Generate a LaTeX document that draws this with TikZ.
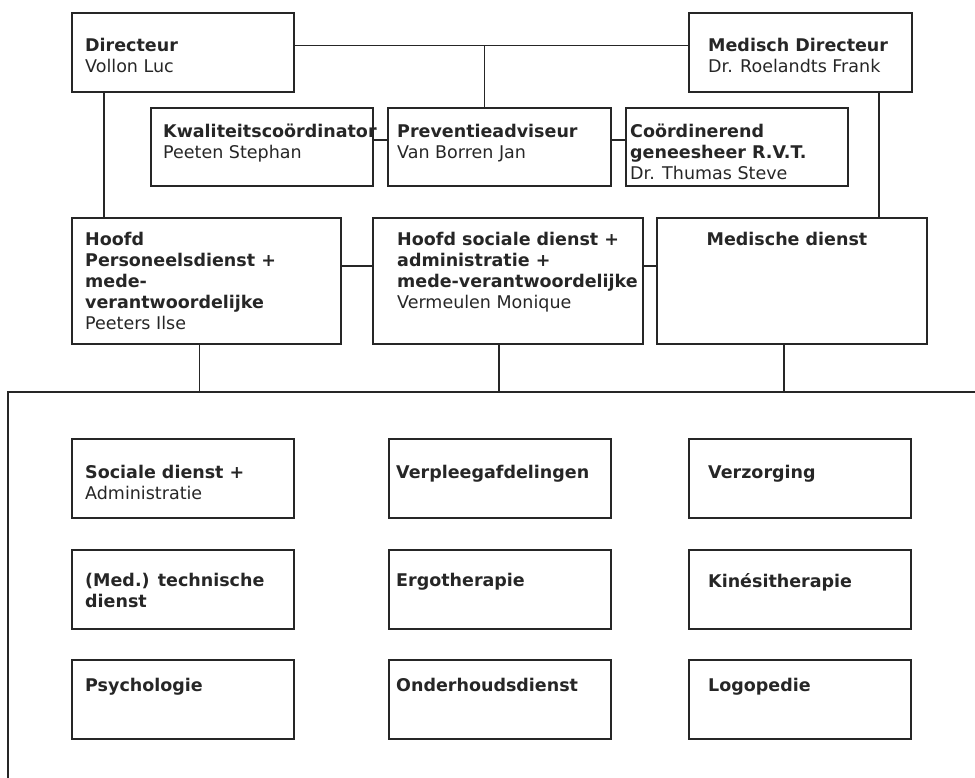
\documentclass[tikz,border=0pt]{standalone}
\usepackage{fontspec}
\setmainfont{DejaVu Sans}
\usetikzlibrary{positioning}

\begin{document}
\begin{tikzpicture}
[x=1pt, y=-1pt,
 box/.style={draw=black!85, line width=1.3pt, anchor=north west, inner sep=0pt, outer sep=0pt, minimum width=222pt, minimum height=79pt},
 txt/.style={inner sep=0pt, align=left, text=black!85, font=\fontsize{17.5}{21}\selectfont},
 edge/.style={line width=1.3pt, color=black!85}]
\useasboundingbox (0,0) rectangle (975,778);
% top: directors and staff
\node (dir) [box] at (72,13) {};
\node (med) [box, minimum width=223pt] at (689,13) {};
\node (kwal) [box, minimum height=78pt] at (151,108) {};
\node (prev) [box, minimum width=223pt, minimum height=78pt] at (388,108) {};
\node (coord) [box, minimum height=78pt] at (626,108) {};
\node (dir-t) [txt, below right=25pt and 13pt of dir.north west] {\textbf{Directeur}\\Vollon Luc};
\node (med-t) [txt, below right=25pt and 19pt of med.north west] {\textbf{Medisch Directeur}\\Dr. Roelandts Frank};
\node (kwal-t) [txt, below right=16pt and 12pt of kwal.north west] {\textbf{Kwaliteitscoördinator}\\Peeten Stephan};
\node (prev-t) [txt, below right=16pt and 9pt of prev.north west] {\textbf{Preventieadviseur}\\Van Borren Jan};
\node (coord-t) [txt, below right=16pt and 4pt of coord.north west] {\textbf{Coördinerend}\\\textbf{geneesheer R.V.T.}\\Dr. Thumas Steve};
% heads of service
\node (hp) [box, minimum width=269pt, minimum height=126pt] at (72,218) {};
\node (hs) [box, minimum width=270pt, minimum height=126pt] at (373,218) {};
\node (md) [box, minimum width=270pt, minimum height=126pt] at (657,218) {};
\node (hp-t) [txt, below right=14pt and 13pt of hp.north west] {\textbf{Hoofd}\\\textbf{Personeelsdienst +}\\\textbf{mede-}\\\textbf{verantwoordelijke}\\Peeters Ilse};
\node (hs-t) [txt, below right=14pt and 24pt of hs.north west] {\textbf{Hoofd sociale dienst +}\\\textbf{administratie +}\\\textbf{mede-verantwoordelijke}\\Vermeulen Monique};
\node (md-t) [txt, below=14pt of md.north, xshift=-5pt] {\textbf{Medische dienst}};
% services
\node (soc) [box] at (72,439) {};
\node (verpl) [box] at (389,439) {};
\node (verz) [box] at (689,439) {};
\node (tech) [box] at (72,550) {};
\node (ergo) [box] at (389,550) {};
\node (kine) [box] at (689,550) {};
\node (psy) [box] at (72,660) {};
\node (onder) [box] at (389,660) {};
\node (logo) [box] at (689,660) {};
\node (soc-t) [txt, below right=26pt and 13pt of soc.north west] {\textbf{Sociale dienst +}\\Administratie};
\node (verpl-t) [txt, below right=26pt and 7pt of verpl.north west] {\textbf{Verpleegafdelingen}};
\node (verz-t) [txt, below right=26pt and 19pt of verz.north west] {\textbf{Verzorging}};
\node (tech-t) [txt, below right=23pt and 13pt of tech.north west] {\textbf{(Med.) technische}\\\textbf{dienst}};
\node (ergo-t) [txt, below right=23pt and 7pt of ergo.north west] {\textbf{Ergotherapie}};
\node (kine-t) [txt, below right=23pt and 19pt of kine.north west] {\textbf{Kinésitherapie}};
\node (psy-t) [txt, below right=18pt and 13pt of psy.north west] {\textbf{Psychologie}};
\node (onder-t) [txt, below right=18pt and 7pt of onder.north west] {\textbf{Onderhoudsdienst}};
\node (logo-t) [txt, below right=18pt and 19pt of logo.north west] {\textbf{Logopedie}};
% frame round the services
\coordinate (fr-tr) at (985,392);
\coordinate (fr-tl) at (8,392);
\coordinate (fr-bl) at (8,790);
\draw [edge] (fr-tr) -- (fr-tl) -- (fr-bl);
% connectors
\draw [edge] ([yshift=7pt]dir.east) coordinate (top) to ([yshift=7pt]med.west);
\draw [edge] ([xshift=-15pt]prev.north) to ([xshift=-15pt]prev.north |- top);
\draw [edge] ([yshift=7pt]kwal.east) to ([yshift=7pt]prev.west);
\draw [edge] ([yshift=7pt]prev.east) to ([yshift=7pt]coord.west);
\draw [edge] ([xshift=32pt]dir.south west) to ([xshift=32pt]dir.south west |- hp.north);
\draw [edge] ([xshift=-33pt]med.south east) to ([xshift=-33pt]med.south east |- md.north);
\draw [edge] ([yshift=15pt]hp.east) to ([yshift=15pt]hs.west);
\draw [edge] ([yshift=15pt]hs.east) to ([yshift=15pt]md.west);
\draw [edge] ([xshift=-7pt]hp.south) to ([xshift=-7pt]hp.south |- fr-tl);
\draw [edge] ([xshift=-9pt]hs.south) to ([xshift=-9pt]hs.south |- fr-tl);
\draw [edge] ([xshift=-8pt]md.south) to ([xshift=-8pt]md.south |- fr-tl);
\end{tikzpicture}
\end{document}
